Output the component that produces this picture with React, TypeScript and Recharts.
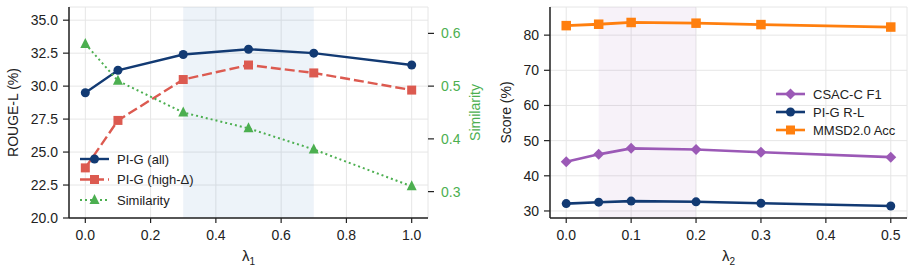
import React from 'react';
import { LineChart, Line, XAxis, YAxis, CartesianGrid, ReferenceArea, Legend } from 'recharts';

// ---- Left panel data (lambda_1 sweep) ----
const lambda1 = [0, 0.1, 0.3, 0.5, 0.7, 1.0];
const pigAll = [29.5, 31.2, 32.4, 32.8, 32.5, 31.6];
const pigHigh = [23.8, 27.4, 30.5, 31.6, 31.0, 29.7];
const similarity = [0.58, 0.51, 0.45, 0.42, 0.38, 0.31];
const xTicks1 = [0, 0.2, 0.4, 0.6, 0.8, 1.0];
const yTicksLeft = [20, 22.5, 25, 27.5, 30, 32.5, 35];
const yTicksSim = [0.3, 0.4, 0.5, 0.6];
const shade1 = [0.3, 0.7];

// ---- Right panel data (lambda_2 sweep) ----
const lambda2 = [0, 0.05, 0.1, 0.2, 0.3, 0.5];
const csacF1 = [44.0, 46.1, 47.8, 47.5, 46.7, 45.3];
const pigRL = [32.1, 32.5, 32.8, 32.6, 32.2, 31.4];
const mmsdAcc = [82.7, 83.1, 83.6, 83.4, 83.0, 82.3];
const xTicks2 = [0, 0.1, 0.2, 0.3, 0.4, 0.5];
const yTicksScore = [30, 40, 50, 60, 70, 80];
const shade2 = [0.05, 0.2];

const legend1 = ['PI-G (all)', 'PI-G (high-Δ)', 'Similarity'];
const legend2 = ['CSAC-C F1', 'PI-G R-L', 'MMSD2.0 Acc'];

const data1 = lambda1.map((l, i) => ({ l, all: pigAll[i], high: pigHigh[i], sim: similarity[i] }));
const data2 = lambda2.map((l, i) => ({ l, csac: csacF1[i], pig: pigRL[i], mmsd: mmsdAcc[i] }));

const FONT = '"Liberation Sans", Arial, Helvetica, sans-serif';
const NAVY = '#123a73';
const RED = '#dc5a50';
const GREEN = '#4caf50';
const PURPLE = '#9b59b6';
const ORANGE = '#ff7f0e';
const INK = '#222222';
const GRID = '#e6e6e6';

type Shape = 'circle' | 'square' | 'triangle' | 'diamond';

function marker(shape: Shape, cx: number, cy: number, s: number, color: string, key?: string) {
  if (shape === 'circle') return <circle key={key} cx={cx} cy={cy} r={s / 2} fill={color} />;
  if (shape === 'square') return <rect key={key} x={cx - s / 2} y={cy - s / 2} width={s} height={s} fill={color} />;
  if (shape === 'triangle') {
    const h = s;
    return (
      <polygon key={key} points={`${cx},${cy - h * 0.6} ${cx - s / 2},${cy + h * 0.4} ${cx + s / 2},${cy + h * 0.4}`} fill={color} />
    );
  }
  return (
    <polygon key={key} points={`${cx},${cy - s / 2} ${cx + s / 2},${cy} ${cx},${cy + s / 2} ${cx - s / 2},${cy}`} fill={color} />
  );
}

const dotFn = (shape: Shape, s: number, color: string) => (props: any) => {
  const { cx, cy, index } = props;
  if (cx == null || cy == null) return <g key={`e${index}`} />;
  return marker(shape, cx, cy, s, color, `${shape}-${index}`);
};

const fmt1 = (v: number) => v.toFixed(1);

const YLabel = (text: string, dx: number, color: string) => (props: any) => {
  const vb = props.viewBox || { x: 0, y: 0, width: 0, height: 0 };
  const cx = vb.x + dx;
  const cy = vb.y + vb.height / 2;
  return (
    <text
      x={cx}
      y={cy}
      transform={`rotate(-90 ${cx} ${cy})`}
      textAnchor="middle"
      dominantBaseline="central"
      fill={color}
      fontSize={14}
      fontFamily={FONT}
    >
      {text}
    </text>
  );
};

const XLabel = (sub: string) => (props: any) => {
  const vb = props.viewBox || { x: 0, y: 0, width: 0, height: 0 };
  const cx = vb.x + vb.width / 2;
  const y = vb.y + 43;
  return (
    <text x={cx} y={y} textAnchor="middle" fill={INK} fontSize={15} fontFamily={FONT}>
      λ
      <tspan fontSize={10} dy={4}>
        {sub}
      </tspan>
    </text>
  );
};

type LegendItem = { label: string; color: string; shape: Shape; size: number; dash?: string; width: number };

const LegendBox = ({ items, rowH }: { items: LegendItem[]; rowH: number }) => (
  <svg width={150} height={rowH * items.length + 6} style={{ display: 'block', overflow: 'visible' }}>
    {items.map((it, i) => {
      const y = 10 + i * rowH;
      return (
        <g key={it.label}>
          <line x1={6} x2={35} y1={y} y2={y} stroke={it.color} strokeWidth={it.width} strokeDasharray={it.dash} />
          {marker(it.shape, 20.5, y, it.size, it.color)}
          <text x={43} y={y} dominantBaseline="central" fontSize={13} fill={INK} fontFamily={FONT}>
            {it.label}
          </text>
        </g>
      );
    })}
  </svg>
);

const legendItems1: LegendItem[] = [
  { label: legend1[0], color: NAVY, shape: 'circle', size: 9, width: 2.4 },
  { label: legend1[1], color: RED, shape: 'square', size: 9, width: 2.4, dash: '10 4' },
  { label: legend1[2], color: GREEN, shape: 'triangle', size: 10, width: 2, dash: '2 3' },
];
const legendItems2: LegendItem[] = [
  { label: legend2[0], color: PURPLE, shape: 'diamond', size: 11, width: 2.6 },
  { label: legend2[1], color: NAVY, shape: 'circle', size: 9, width: 2.6 },
  { label: legend2[2], color: ORANGE, shape: 'square', size: 9, width: 2.6 },
];

const tickStyle = { fill: INK, fontSize: 14, fontFamily: FONT };
const axisLineStyle = { stroke: INK, strokeWidth: 1.5 };
const tickLineStyle = { stroke: INK, strokeWidth: 1.2 };

export default function App() {
  return (
    <div style={{ position: 'absolute', left: 0, top: 0, width: 916, height: 273, background: '#fff', fontFamily: FONT }}>
      <div style={{ position: 'absolute', left: 0, top: 0 }}>
        <LineChart width={490} height={273} data={data1} margin={{ top: 7, right: 0, bottom: 0, left: 0 }}>
          <CartesianGrid yAxisId="left" stroke={GRID} strokeWidth={1} />
          <ReferenceArea
            yAxisId="left"
            x1={shade1[0]}
            x2={shade1[1]}
            fill="#4a86c5"
            fillOpacity={0.1}
            stroke="none"
            ifOverflow="visible"
          />
          <XAxis
            dataKey="l"
            type="number"
            domain={[-0.05, 1.05]}
            ticks={xTicks1}
            tickFormatter={fmt1}
            height={55}
            tick={tickStyle}
            tickSize={5}
            tickMargin={7}
            axisLine={axisLineStyle}
            tickLine={tickLineStyle}
            label={XLabel('1')}
          />
          <YAxis
            yAxisId="left"
            orientation="left"
            width={69}
            domain={[20, 36]}
            ticks={yTicksLeft}
            tickFormatter={fmt1}
            tick={tickStyle}
            tickSize={6}
            tickMargin={5}
            axisLine={axisLineStyle}
            tickLine={tickLineStyle}
            allowDataOverflow
            label={YLabel('ROUGE-L (%)', 13, INK)}
          />
          <YAxis
            yAxisId="right"
            orientation="right"
            width={62}
            domain={[0.25, 0.65]}
            ticks={yTicksSim}
            tickFormatter={fmt1}
            tick={{ ...tickStyle, fill: GREEN }}
            tickSize={6}
            tickMargin={7}
            axisLine={false}
            tickLine={tickLineStyle}
            allowDataOverflow
            label={YLabel('Similarity', 47, GREEN)}
          />
          <Line
            yAxisId="left"
            dataKey="all"
            stroke={NAVY}
            strokeWidth={2.4}
            dot={dotFn('circle', 9, NAVY)}
            isAnimationActive={false}
          />
          <Line
            yAxisId="left"
            dataKey="high"
            stroke={RED}
            strokeWidth={2.4}
            strokeDasharray="10 4"
            dot={dotFn('square', 9, RED)}
            isAnimationActive={false}
          />
          <Line
            yAxisId="right"
            dataKey="sim"
            stroke={GREEN}
            strokeWidth={2}
            strokeDasharray="2 3"
            dot={dotFn('triangle', 10, GREEN)}
            isAnimationActive={false}
          />
          <Legend
            layout="horizontal"
            verticalAlign="middle"
            align="center"
            wrapperStyle={{ position: 'absolute', left: 74, top: 149, width: 150, height: 70 }}
            content={() => <LegendBox items={legendItems1} rowH={20.5} />}
          />
        </LineChart>
      </div>
      <div style={{ position: 'absolute', left: 490, top: 0 }}>
        <LineChart width={426} height={273} data={data2} margin={{ top: 7, right: 9, bottom: 0, left: 0 }}>
          <CartesianGrid stroke={GRID} strokeWidth={1} />
          <ReferenceArea
            x1={shade2[0]}
            x2={shade2[1]}
            fill={PURPLE}
            fillOpacity={0.08}
            stroke="none"
            ifOverflow="visible"
          />
          <XAxis
            dataKey="l"
            type="number"
            domain={[-0.025, 0.525]}
            ticks={xTicks2}
            tickFormatter={fmt1}
            height={55}
            tick={tickStyle}
            tickSize={5}
            tickMargin={7}
            axisLine={axisLineStyle}
            tickLine={tickLineStyle}
            label={XLabel('2')}
          />
          <YAxis
            width={60}
            domain={[28, 88]}
            ticks={yTicksScore}
            tick={tickStyle}
            tickSize={6}
            tickMargin={5}
            axisLine={axisLineStyle}
            tickLine={tickLineStyle}
            allowDataOverflow
            label={YLabel('Score (%)', 16, INK)}
          />
          <Line dataKey="csac" stroke={PURPLE} strokeWidth={2.6} dot={dotFn('diamond', 11, PURPLE)} isAnimationActive={false} />
          <Line dataKey="pig" stroke={NAVY} strokeWidth={2.6} dot={dotFn('circle', 9, NAVY)} isAnimationActive={false} />
          <Line dataKey="mmsd" stroke={ORANGE} strokeWidth={2.8} dot={dotFn('square', 9.5, ORANGE)} isAnimationActive={false} />
          <Legend
            layout="horizontal"
            verticalAlign="middle"
            align="center"
            wrapperStyle={{ position: 'absolute', left: 280, top: 84, width: 150, height: 70 }}
            content={() => <LegendBox items={legendItems2} rowH={18} />}
          />
        </LineChart>
      </div>
    </div>
  );
}
